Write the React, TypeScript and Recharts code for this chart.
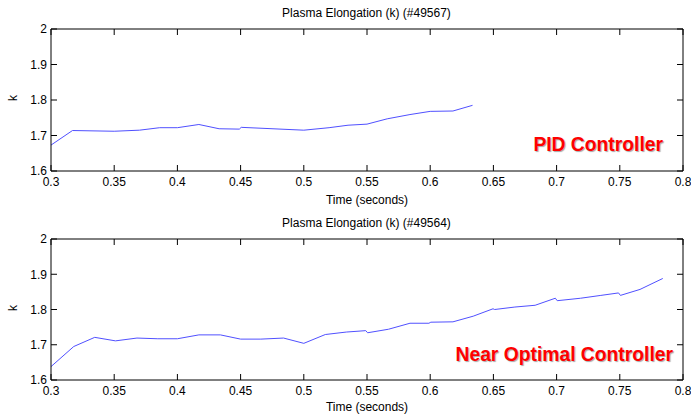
import { useEffect } from 'react';
import { LineChart, Line, XAxis, YAxis } from 'recharts';

// PID shot #49567
const pidTime = [0.3, 0.317, 0.35, 0.37, 0.386, 0.4, 0.417, 0.433, 0.449, 0.4505, 0.5, 0.52, 0.535, 0.55, 0.566, 0.584, 0.6, 0.618, 0.6335];
const pidK = [1.673, 1.714, 1.712, 1.715, 1.722, 1.722, 1.731, 1.719, 1.718, 1.723, 1.715, 1.722, 1.729, 1.732, 1.747, 1.759, 1.768, 1.769, 1.785];

// Near optimal shot #49564
const optTime = [0.3, 0.318, 0.3346, 0.351, 0.368, 0.3845, 0.4, 0.417, 0.434, 0.45, 0.466, 0.484, 0.5, 0.517, 0.5336, 0.549, 0.5505, 0.567, 0.584, 0.599, 0.6005, 0.618, 0.634, 0.6497, 0.651, 0.667, 0.683, 0.699, 0.7005, 0.719, 0.735, 0.749, 0.7505, 0.766, 0.784];
const optK = [1.638, 1.695, 1.721, 1.711, 1.719, 1.717, 1.717, 1.728, 1.728, 1.716, 1.716, 1.719, 1.704, 1.729, 1.736, 1.74, 1.734, 1.744, 1.761, 1.761, 1.764, 1.765, 1.781, 1.802, 1.8, 1.807, 1.812, 1.832, 1.825, 1.832, 1.84, 1.847, 1.84, 1.857, 1.888];

const xTicks = [0.3, 0.35, 0.4, 0.45, 0.5, 0.55, 0.6, 0.65, 0.7, 0.75, 0.8];
const yTicks = [1.6, 1.7, 1.8, 1.9, 2];

const FONT = '"Liberation Sans", Arial, sans-serif';
const tickStyle = { fill: '#000', fontSize: 12, fontFamily: FONT };
const axisLine = { stroke: '#000', strokeWidth: 1 };

function Panel({ title, time, k, top, annotation, annRight }: { title: string; time: number[]; k: number[]; top: number; annotation: string; annRight: number }) {
    const data = time.map((t, i) => ({ t, k: k[i] }));
    return (
        <div style={{ position: 'relative', width: 691, height: 207 }}>
            <LineChart width={691} height={207} data={data} margin={{ top, right: 7, bottom: 0, left: 0 }}>
                <XAxis
                    dataKey="t"
                    type="number"
                    domain={[0.3, 0.8]}
                    ticks={xTicks}
                    allowDataOverflow
                    height={207 - top - (top === 28 ? 143 : 142)}
                    tickSize={-6}
                    tickMargin={12}
                    tick={tickStyle}
                    tickLine={axisLine}
                    axisLine={axisLine}
                    interval={0}
                    label={{ value: 'Time (seconds)', position: 'insideBottom', offset: 3, style: { fill: '#000', fontSize: 12, fontFamily: FONT } }}
                />
                {/* mirrored box ticks, MATLAB style */}
                <XAxis xAxisId="top" dataKey="t" orientation="top" type="number" domain={[0.3, 0.8]} allowDataOverflow ticks={xTicks} height={1} tickSize={-6} tickFormatter={() => ''} tickLine={axisLine} axisLine={axisLine} interval={0} />
                <YAxis
                    type="number"
                    domain={[1.6, 2]}
                    ticks={yTicks}
                    allowDataOverflow
                    width={51}
                    tickSize={-6}
                    tickMargin={10}
                    tick={tickStyle}
                    tickLine={axisLine}
                    axisLine={axisLine}
                    interval={0}
                />
                <YAxis yAxisId="r" dataKey="k" orientation="right" type="number" domain={[1.6, 2]} allowDataOverflow ticks={yTicks} width={1} tickSize={-6} tickFormatter={() => ''} tickLine={axisLine} axisLine={axisLine} interval={0} />
                <Line dataKey="k" stroke="#5050ff" strokeWidth={1} dot={false} isAnimationActive={false} />
            </LineChart>
            <div style={{ position: 'absolute', left: 0, width: 733, top: top - 22, textAlign: 'center', fontFamily: FONT, fontSize: 12 }}>{title}</div>
            <div style={{ position: 'absolute', left: 10, top: top + 63, fontFamily: FONT, fontSize: 12, transform: 'rotate(-90deg)' }}>k</div>
            <div style={{ position: 'absolute', right: annRight, top: top + 106, fontFamily: FONT, fontSize: 19.3, fontWeight: 'bold', color: '#ff0000', textShadow: '1px 1px 1px rgba(0,0,0,0.35)' }}>{annotation}</div>
        </div>
    );
}

export default function App() {
    useEffect(() => {
        document.body.style.margin = '0';
    }, []);
    return (
        <div style={{ width: 691, height: 414, background: '#fff', overflow: 'hidden' }}>
            <Panel title="Plasma Elongation (k) (#49567)" time={pidTime} k={pidK} top={28} annotation="PID Controller" annRight={28} />
            <Panel title="Plasma Elongation (k) (#49564)" time={optTime} k={optK} top={31} annotation="Near Optimal Controller" annRight={18} />
        </div>
    );
}
